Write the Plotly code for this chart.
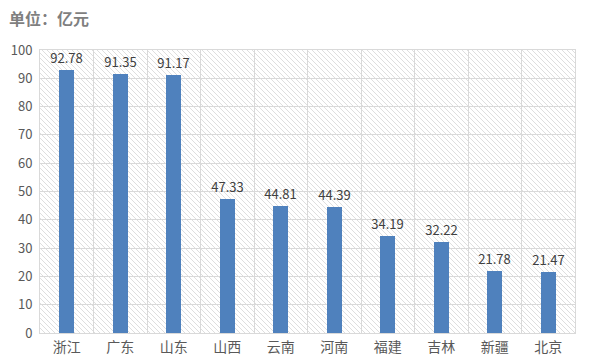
import base64
import plotly.graph_objects as go

# 各省份金额（亿元）
provinces = ["浙江", "广东", "山东", "山西", "云南", "河南", "福建", "吉林", "新疆", "北京"]
amounts = [92.78, 91.35, 91.17, 47.33, 44.81, 44.39, 34.19, 32.22, 21.78, 21.47]
y_ticks = [0, 10, 20, 30, 40, 50, 60, 70, 80, 90, 100]

FONT = "Noto Sans CJK SC"
GRID = "#d9d9d9"

# 绘图区的斜线底纹
W, H = 535, 283
lines = "".join(
    f'<line x1="{k}" y1="0" x2="{k + H}" y2="{H}" stroke="#dedede" stroke-width="1"/>'
    for k in range(-H, W + 1, 5)
)
svg = (f'<svg xmlns="http://www.w3.org/2000/svg" width="{W}" height="{H}" '
       f'viewBox="0 0 {W} {H}">{lines}</svg>')
hatch = "data:image/svg+xml;base64," + base64.b64encode(svg.encode()).decode()

x_pos = list(range(len(provinces)))

fig = go.Figure(go.Bar(
    x=x_pos,
    y=amounts,
    width=0.28,
    marker=dict(color="#4f81bd", line=dict(width=0)),
    text=[f"{v:.2f}" for v in amounts],
    textposition="outside",
    constraintext="none",
    textfont=dict(family=FONT, size=13, color="#404040"),
    cliponaxis=False,
))

fig.update_layout(
    width=589,
    height=364,
    margin=dict(l=40, r=14, t=50, b=31),
    paper_bgcolor="white",
    plot_bgcolor="white",
    showlegend=False,
    bargap=0,
    images=[dict(
        source=hatch, xref="paper", yref="paper", x=0, y=1,
        sizex=1, sizey=1, sizing="stretch", layer="below",
        xanchor="left", yanchor="top",
    )],
    annotations=[dict(
        text="<b>单位：亿元</b>", xref="paper", yref="paper",
        x=-0.062, y=1.0, yshift=32, xanchor="left", yanchor="middle",
        showarrow=False, font=dict(family=FONT, size=16, color="#7f7f7f"),
    )],
)

fig.update_xaxes(
    range=[-0.5, len(provinces) - 0.5],
    tickvals=x_pos,
    ticktext=provinces,
    tickfont=dict(family=FONT, size=14, color="#595959"),
    showgrid=False,
    zeroline=False,
    ticks="",
    showline=True,
    linecolor=GRID,
    mirror=True,
    automargin=False,
    ticklabelstandoff=1,
    minor=dict(tick0=0.5, dtick=1, showgrid=True, gridcolor=GRID, gridwidth=1, ticks=""),
)

fig.update_yaxes(
    range=[0, 100],
    tickvals=y_ticks,
    tickfont=dict(family=FONT, size=13, color="#595959"),
    showgrid=True,
    gridcolor=GRID,
    gridwidth=1,
    zeroline=False,
    showline=True,
    linecolor=GRID,
    mirror=True,
    ticks="",
    automargin=False,
    ticklabelstandoff=4,
)

fig.write_html("out.html")
